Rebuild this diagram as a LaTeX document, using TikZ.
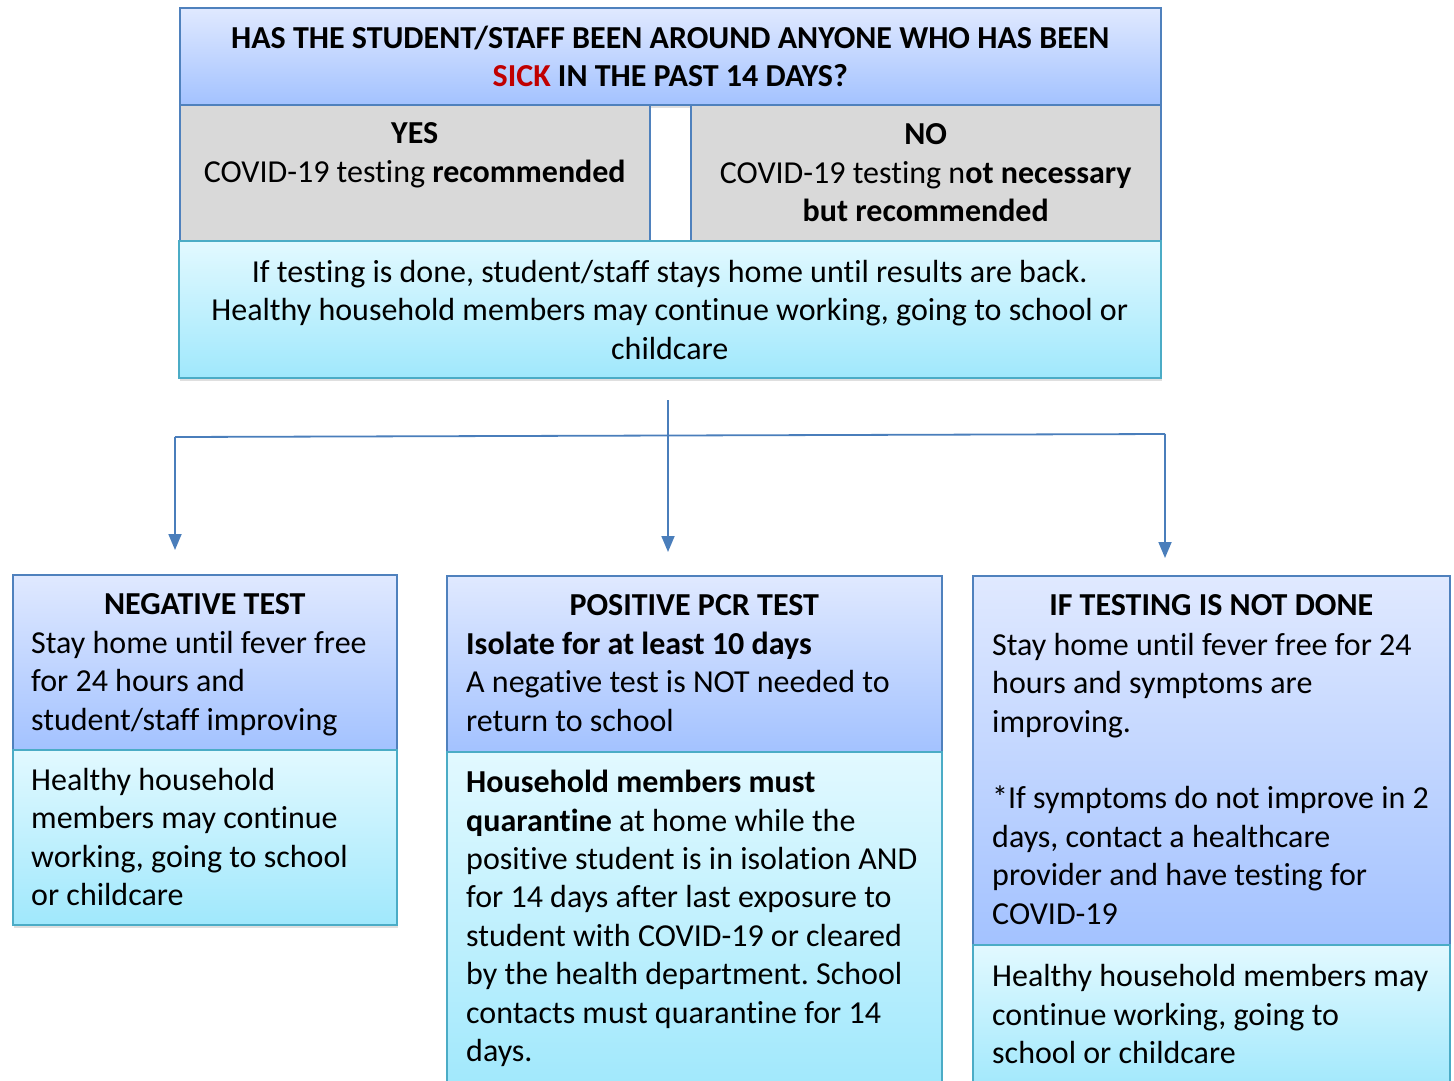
\documentclass[tikz,border=0pt]{standalone}
\usepackage{fontspec}
\setmainfont[Ligatures=NoCommon]{Carlito}
\frenchspacing
\usetikzlibrary{positioning,arrows.meta,shadows}

\definecolor{bluetop}{RGB}{224,233,255}
\definecolor{bluebot}{RGB}{163,194,255}
\definecolor{cyantop}{RGB}{226,249,255}
\definecolor{cyanbot}{RGB}{160,232,252}
\definecolor{boxgrey}{RGB}{217,217,217}
\definecolor{edgeblue}{RGB}{79,129,189}
\definecolor{edgecyan}{RGB}{75,172,198}
\definecolor{arrowblue}{RGB}{74,126,187}
\definecolor{sickred}{RGB}{192,0,0}

\begin{document}
\begin{tikzpicture}[x=1pt, y=-1pt,
	box/.style={draw=edgeblue, line width=1.5pt, inner sep=0pt, anchor=north west},
	bluebox/.style={box, top color=bluetop, bottom color=bluebot},
	cyanbox/.style={box, draw=edgecyan, top color=cyantop, bottom color=cyanbot},
	greybox/.style={box, fill=boxgrey},
	shade/.style={drop shadow={shadow xshift=1pt, shadow yshift=-3pt, opacity=0.25}},
	txt/.style={inner sep=0pt, font=\fontsize{32}{38.4}\selectfont, execute at begin node=\strut},
	title/.style={txt, font=\fontsize{32}{38.4}\selectfont\bfseries, align=center},
	body/.style={txt, align=left},
	flow/.style={draw=arrowblue, line width=1.8pt, -{Triangle[length=16pt,width=13pt]}}
	]
	% frame
	\useasboundingbox (0,0) rectangle (1454,1080);
	\clip (0,0) rectangle (1454,1080);
	
	% question block
	\node[bluebox, shade, minimum width=981pt, minimum height=97pt] (question) at (179,7) {};
	\node[greybox, minimum width=470pt, minimum height=136pt] (yes) at (179,104) {};
	\node[greybox, minimum width=470pt, minimum height=136pt] (no) at (690,104) {};
	\node[cyanbox, shade, minimum width=982pt, minimum height=137pt] (info) at (178,240) {};
	
	\node[title, below=18.5pt of question.north] (questiontext)
		{HAS THE STUDENT/STAFF BEEN AROUND ANYONE WHO HAS BEEN\\
		 \textcolor{sickred}{SICK} IN THE PAST 14 DAYS?};
	\node[txt, align=center, below=18.5pt of yes.north] (yestext)
		{\textbf{YES}\\COVID-19 testing \textbf{recommended}};
	\node[txt, align=center, below=19.5pt of no.north] (notext)
		{\textbf{NO}\\COVID-19 testing n\textbf{ot necessary}\\\textbf{but recommended}};
	\node[txt, align=center, below=20pt of info.north] (infotext)
		{If testing is done, student/staff stays home until results are back.\\
		 Healthy household members may continue working, going to school or\\
		 childcare};
	
	% outcome boxes
	\node[bluebox, shade, minimum width=384pt, minimum height=175pt] (negtop) at (12,574) {};
	\node[cyanbox, shade, minimum width=384pt, minimum height=175pt] (neglow) at (12,749) {};
	\node[bluebox, shade, minimum width=495pt, minimum height=176pt] (postop) at (446,575) {};
	\node[cyanbox, shade, minimum width=495pt, minimum height=340pt] (poslow) at (446,751) {};
	\node[bluebox, shade, minimum width=477pt, minimum height=369pt] (nottop) at (972,575) {};
	\node[cyanbox, shade, minimum width=477pt, minimum height=146pt] (notlow) at (972,944) {};
	
	\node[title, below=13.5pt of negtop.north] (negtitle) {NEGATIVE TEST};
	\node[body, below right=56.9pt and 19pt of negtop.north west] (negbody)
		{Stay home until fever free\\for 24 hours and\\student/staff improving};
	\node[body, below right=19pt and 19pt of neglow.north west] (neghome)
		{Healthy household\\members may continue\\working, going to school\\or childcare};
	
	\node[title, below=13pt of postop.north] (postitle) {POSITIVE PCR TEST};
	\node[body, below right=56.9pt and 20pt of postop.north west] (posbody)
		{\textbf{Isolate for at least 10 days}\\A negative test is NOT needed to\\return to school};
	\node[body, below right=19pt and 20pt of poslow.north west] (poshome)
		{\textbf{Household members must}\\
		 \textbf{quarantine} at home while the\\
		 positive student is in isolation AND\\
		 for 14 days after last exposure to\\
		 student with COVID-19 or cleared\\
		 by the health department. School\\
		 contacts must quarantine for 14\\
		 days.};
	
	\node[title, below=13.5pt of nottop.north] (nottitle) {IF TESTING IS NOT DONE};
	\node[body, below right=57.9pt and 20pt of nottop.north west] (notbody)
		{Stay home until fever free for 24\\hours and symptoms are\\improving.\\[38.4pt]
		 {*}If symptoms do not improve in 2\\days, contact a healthcare\\
		 provider and have testing for\\COVID-19};
	\node[body, below right=20.5pt and 20pt of notlow.north west] (nothome)
		{Healthy household members may\\continue working, going to\\school or childcare};
	
	% arrows
	\coordinate (fork) at (668,400);
	\coordinate (lturn) at (175,437);
	\coordinate (rturn) at (1165,434);
	\coordinate (lend) at (175,550);
	\coordinate (mend) at (668,552);
	\coordinate (rend) at (1165,558);
	\draw[flow, -] (lturn) -- (rturn);
	\draw[flow] (lturn) -- (lend);
	\draw[flow] (fork) -- (mend);
	\draw[flow] (rturn) -- (rend);
\end{tikzpicture}
\end{document}
